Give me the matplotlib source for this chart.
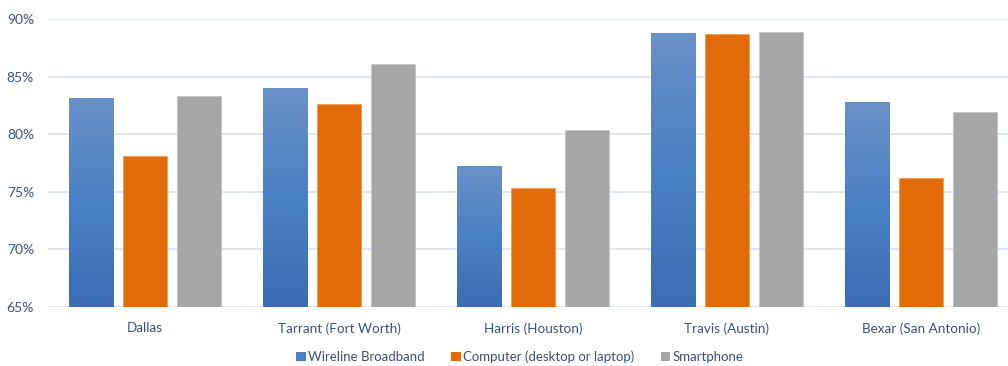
import numpy as np
import matplotlib
matplotlib.use("Agg")
import matplotlib.pyplot as plt
from matplotlib.patches import Patch
from matplotlib.colors import LinearSegmentedColormap

plt.rcParams['font.family'] = ['Lato', 'DejaVu Sans']

counties = ["Dallas", "Tarrant (Fort Worth)", "Harris (Houston)", "Travis (Austin)", "Bexar (San Antonio)"]
wireline = [83.1, 84.0, 77.2, 88.8, 82.8]
computer = [78.1, 82.6, 75.3, 88.7, 76.2]
smartphone = [83.3, 86.1, 80.4, 88.9, 81.9]
series_names = ["Wireline Broadband", "Computer (desktop or laptop)", "Smartphone"]
yticks = [65, 70, 75, 80, 85, 90]

text_color = "#3a5078"
grid_color = "#d9e3f3"
blue_top, blue_bottom = "#6a90c8", "#3a6db3"
orange = "#e36c0a"
gray = "#a6a6a6"

fig = plt.figure(figsize=(10.08, 3.66), dpi=100)
ax = fig.add_axes([48 / 1008, 59 / 366, 970 / 1008, 288 / 366])

x = np.arange(len(counties))
w = 0.227
step = 0.278
ymin = yticks[0]

blue_bars = ax.bar(x - step, np.array(wireline) - ymin, w, bottom=ymin, color=blue_bottom, zorder=3)
ax.bar(x, np.array(computer) - ymin, w, bottom=ymin, color=orange,
       edgecolor="#ef9a55", linewidth=0.6, zorder=3)
ax.bar(x + step, np.array(smartphone) - ymin, w, bottom=ymin, color=gray,
       edgecolor="#c4c4c4", linewidth=0.6, zorder=3)

# vertical gradient fill for the broadband bars
cmap = LinearSegmentedColormap.from_list("bluegrad", [blue_bottom, "#4a80c4", blue_top])
grad = np.linspace(0, 1, 256).reshape(-1, 1)
for b in blue_bars:
    x0, y0 = b.get_x(), b.get_y()
    im = ax.imshow(grad, cmap=cmap, origin="lower", aspect="auto",
                   extent=(x0, x0 + b.get_width(), y0, y0 + b.get_height()), zorder=4)
    im.set_clip_path(b)

ax.set_xlim(-0.5, len(counties) - 0.5)
ax.set_ylim(yticks[0], yticks[-1])
ax.set_yticks(yticks)
ax.set_yticklabels([f"{t}%" for t in yticks])
ax.set_xticks(x)
ax.set_xticklabels(counties)
ax.tick_params(axis="both", length=0, colors=text_color)
ax.tick_params(axis="y", pad=10, labelsize=10)
ax.tick_params(axis="x", pad=11, labelsize=9.7)
ax.grid(axis="y", color=grid_color, linewidth=1.2, zorder=0)
for s in ax.spines.values():
    s.set_visible(False)

handles = [Patch(facecolor=c, edgecolor="none") for c in ("#4a7fc4", orange, gray)]
fig.legend(handles, series_names, loc="center", bbox_to_anchor=(520 / 1008, 1 - 357 / 366),
           ncol=3, frameon=False, handlelength=0.7, handleheight=0.7, handletextpad=0.2,
           columnspacing=2.0, labelcolor=text_color, fontsize=9.5)

fig.savefig("out.png", dpi=100)
